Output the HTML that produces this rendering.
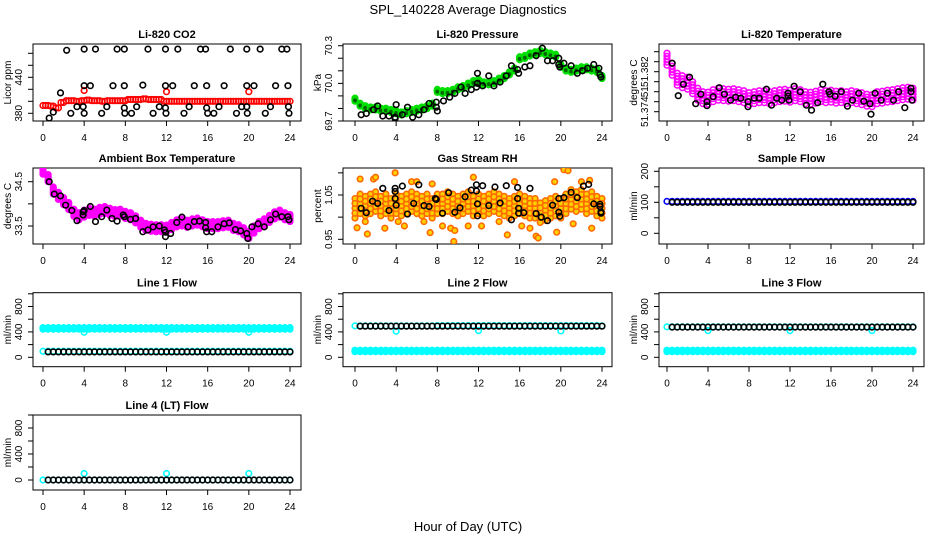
<!DOCTYPE html>
<html><head><meta charset="utf-8"><title>SPL_140228 Average Diagnostics</title>
<style>
html,body{margin:0;padding:0;background:#fff;}
svg{display:block;font-family:"Liberation Sans",Arial,sans-serif;}
</style></head>
<body>
<svg id="chart" width="936" height="540" viewBox="0 0 936 540" xmlns="http://www.w3.org/2000/svg">
<text x="468" y="14" font-size="13" text-anchor="middle">SPL_140228  Average Diagnostics</text>
<text x="468" y="531" font-size="13" text-anchor="middle">Hour of Day (UTC)</text>
</svg>
<script>
// ---- shared hour grids ----
const halfHours = [0,0.5,1,1.5,2,2.5,3,3.5,4,4.5,5,5.5,6,6.5,7,7.5,8,8.5,9,9.5,10,10.5,11,11.5,12,12.5,13,13.5,14,14.5,15,15.5,16,16.5,17,17.5,18,18.5,19,19.5,20,20.5,21,21.5,22,22.5,23,23.5,24];
const flowHours = [0.5,1,1.5,2,2.5,3,3.5,4,4.5,5,5.5,6,6.5,7,7.5,8,8.5,9,9.5,10,10.5,11,11.5,12,12.5,13,13.5,14,14.5,15,15.5,16,16.5,17,17.5,18,18.5,19,19.5,20,20.5,21,21.5,22,22.5,23,23.5,24];
const dipHours = [4,12,20];
const xTicks = [0,4,8,12,16,20,24];

// ---- Li-820 CO2 ----
const co2Red = [393,393,392,389,398,401,401,400,401,402,401,401,400,401,401,401,401,403,403,403,404,403,403,403,400,400,400,400,400,400,400,400,400,400,400,400,400,400,400,400,400,400,400,400,400,400,400,400,400];
const co2RedDip = [418,416,416];
const co2BlackHours = [0.6,1.0,1.7,2.3,2.7,3.3,3.9,4.0,4.0,4.0,4.6,5.1,5.7,6.2,6.8,7.2,7.9,7.9,7.9,7.95,8.6,9.1,9.7,10.2,10.7,11.3,11.9,11.9,11.9,11.95,12.6,13.1,13.7,14.2,14.7,15.3,15.8,15.9,15.9,16.0,16.6,17.1,17.6,18.2,18.8,19.3,19.8,19.8,19.8,19.85,20.5,21.1,21.6,22.1,22.6,23.2,23.7,23.8,23.85,23.9];
const co2Black = [372,382,414,485,380,391,391,426,487,380,426,487,380,391,426,487,487,426,389,380,380,391,427,487,380,391,487,426,389,380,426,487,380,391,426,487,487,426,389,380,380,391,426,487,380,391,487,426,391,380,426,487,380,391,426,487,487,426,391,380];

// ---- Li-820 Pressure ----
const presGreen = [69.87,69.83,69.81,69.80,69.80,69.79,69.79,69.78,69.77,69.76,69.77,69.78,69.79,69.80,69.81,69.83,69.94,69.93,69.93,69.94,69.96,69.97,69.99,70.01,70.02,70.00,70.00,70.01,70.03,70.05,70.08,70.11,70.20,70.21,70.23,70.24,70.25,70.24,70.23,70.22,70.14,70.11,70.10,70.11,70.12,70.12,70.11,70.10,70.05];
const presBlackHours = [0.6,1.1,1.8,2.2,2.7,3.3,3.9,3.9,4.0,4.6,5.1,5.6,6.2,6.7,7.2,7.9,7.9,8.0,8.6,9.2,9.7,10.3,10.7,11.3,11.8,11.9,11.9,12.4,13.0,13.5,14.1,14.7,15.2,15.8,15.9,16.5,17.0,17.6,18.2,18.7,19.2,19.8,19.8,19.9,20.3,21.0,21.6,22.1,22.6,23.2,23.7,23.8,23.9];
const presBlack = [69.75,69.76,69.79,69.82,69.74,69.74,69.73,69.72,69.83,69.75,69.81,69.73,69.75,69.79,69.84,69.85,69.81,69.78,69.86,69.89,69.92,69.97,69.92,69.95,69.97,70.0,70.08,69.98,70.06,69.98,70.01,70.06,70.14,70.11,70.08,70.13,70.14,70.22,70.28,70.18,70.18,70.2,70.15,70.13,70.16,70.14,70.08,70.1,70.12,70.15,70.12,70.07,70.05];

// ---- Li-820 Temperature ----
const tempMag = [51.3845,51.3825,51.3805,51.3800,51.3797,51.3788,51.3775,51.3768,51.3767,51.3772,51.3775,51.3774,51.3773,51.3774,51.3772,51.3770,51.3766,51.3768,51.3770,51.3770,51.3768,51.3770,51.3772,51.3773,51.3771,51.3774,51.3772,51.3768,51.3767,51.3769,51.3772,51.3770,51.3771,51.3769,51.3770,51.3768,51.3770,51.3768,51.3766,51.3763,51.3762,51.3768,51.3769,51.3771,51.3772,51.3774,51.3776,51.3777,51.3775];
const tempBlackHours = [0.5,1.1,1.6,2.2,2.8,3.3,3.9,3.9,4.5,5.1,5.6,6.2,6.7,7.2,7.9,7.9,8.5,9.0,9.7,10.2,10.7,11.2,11.8,11.8,11.9,12.4,13.0,13.6,14.1,14.7,15.2,15.8,15.9,16.4,17.0,17.6,18.1,18.7,19.2,19.8,19.9,20.3,20.9,21.5,22.1,22.6,23.2,23.8,23.8,23.9];
const tempBlack = [51.3837,51.3772,51.3795,51.3809,51.3756,51.3775,51.3760,51.3752,51.3770,51.3788,51.3775,51.3763,51.3769,51.3767,51.3760,51.3750,51.3767,51.3767,51.3785,51.3753,51.3767,51.3763,51.3777,51.3771,51.3763,51.3791,51.3780,51.3753,51.3743,51.3758,51.3795,51.3780,51.3775,51.3771,51.3780,51.3751,51.3763,51.3777,51.3761,51.3756,51.3735,51.3777,51.3763,51.3777,51.3763,51.3780,51.3748,51.3787,51.3780,51.3763];

// ---- Ambient Box Temperature ----
const ambMag = [34.75,34.58,34.30,34.18,34.06,33.95,33.80,33.72,33.78,33.82,33.80,33.84,33.86,33.82,33.79,33.80,33.75,33.72,33.65,33.55,33.48,33.46,33.45,33.45,33.44,33.50,33.56,33.58,33.55,33.58,33.60,33.56,33.52,33.52,33.52,33.54,33.55,33.48,33.45,33.38,33.30,33.42,33.52,33.58,33.66,33.74,33.78,33.72,33.68];
const ambBlackHours = [0.6,1.1,1.7,2.2,2.8,3.3,3.9,3.9,4.0,4.6,5.1,5.7,6.2,6.7,7.2,7.8,7.9,8.5,9.0,9.7,10.2,10.7,11.3,11.8,11.9,11.9,12.4,13.0,13.5,14.1,14.7,15.2,15.8,15.8,15.9,16.4,17.0,17.6,18.1,18.7,19.2,19.8,19.9,20.3,20.9,21.5,22.1,22.6,23.2,23.8,23.9];
const ambBlack = [34.50,34.22,34.18,33.97,33.85,33.62,33.82,33.75,33.85,33.94,33.60,33.71,33.86,33.67,33.61,33.75,33.71,33.65,33.67,33.37,33.41,33.48,33.50,33.41,33.36,33.26,33.33,33.58,33.70,33.48,33.60,33.61,33.58,33.46,33.37,33.37,33.48,33.55,33.57,33.42,33.39,33.33,33.22,33.48,33.55,33.48,33.64,33.77,33.71,33.71,33.64];

// ---- Gas Stream RH ----
const rhOrange = [1.020,1.030,1.025,1.030,1.035,1.025,1.030,1.020,1.030,1.025,1.030,1.035,1.030,1.025,1.030,1.020,1.030,1.030,1.035,1.030,1.025,1.030,1.035,1.025,1.030,1.025,1.030,1.035,1.030,1.025,1.020,1.025,1.030,1.025,1.020,1.020,1.010,1.015,1.020,1.025,1.020,1.030,1.040,1.035,1.040,1.030,1.035,1.025,1.020];
const rhOutlierHours = [0.2,0.5,1.0,1.2,1.8,2.0,2.9,3.9,4.2,4.8,5.5,6.0,6.7,7.3,7.5,8.5,9.3,9.6,9.7,11.0,11.5,12.3,14.0,14.8,15.5,16.2,17.0,17.6,17.8,19.4,19.6,20.3,20.7,21.2,22.0,22.8,23.0];
const rhOutliers = [0.976,1.086,0.99,0.962,1.086,1.09,0.975,1.10,0.99,0.98,1.08,1.08,0.99,0.965,1.075,0.98,0.975,0.945,0.97,0.98,1.09,0.98,0.99,0.96,1.08,0.98,0.975,0.957,0.953,1.08,0.966,1.107,1.105,0.985,1.08,1.083,0.975];
const rhBlackHours = [0.6,1.1,1.7,2.2,2.7,3.3,3.9,3.9,3.9,4.0,4.6,5.1,5.7,6.2,6.7,7.2,7.8,7.9,8.5,9.1,9.7,10.2,10.7,11.3,11.8,11.8,11.9,11.9,12.4,13.0,13.6,14.1,14.7,15.2,15.8,15.8,15.9,15.9,16.4,17.0,17.6,18.1,18.7,19.2,19.8,19.8,19.9,20.3,21.0,21.6,22.2,22.7,23.2,23.8,23.8,23.9,23.9];
const rhBlack = [1.020,1.010,1.036,1.031,1.065,1.015,1.065,1.058,1.042,1.027,1.070,1.007,1.031,1.073,1.026,1.024,1.042,1.040,1.009,1.055,1.011,1.021,1.046,1.061,1.073,1.059,1.030,1.003,1.071,1.026,1.068,1.032,1.071,0.994,1.067,1.042,1.020,1.009,1.010,1.065,1.008,1.000,0.992,1.027,1.042,1.011,1.002,1.044,1.056,1.044,1.070,1.074,1.030,1.029,1.024,1.012,1.009];

// ---- Flows ----
const sampleBlue = [103,103,103,103,103,103,103,103,103,103,103,103,103,103,103,103,103,103,103,103,103,103,103,103,103,103,103,103,103,103,103,103,103,103,103,103,103,103,103,103,103,103,103,103,103,103,103,103,103];
const sampleBlack = [100,100,100,100,100,100,100,100,100,100,100,100,100,100,100,100,100,100,100,100,100,100,100,100,100,100,100,100,100,100,100,100,100,100,100,100,100,100,100,100,100,100,100,100,100,100,100,100];
const line1CyanHigh = [455,455,455,455,455,455,455,455,455,455,455,455,455,455,455,455,455,455,455,455,455,455,455,455,455,455,455,455,455,455,455,455,455,455,455,455,455,455,455,455,455,455,455,455,455,455,455,455,455];
const line1CyanLow = [95,95,95,95,95,95,95,95,95,95,95,95,95,95,95,95,95,95,95,95,95,95,95,95,95,95,95,95,95,95,95,95,95,95,95,95,95,95,95,95,95,95,95,95,95,95,95,95,95];
const line1Dip = [395,395,395];
const line1Black = [85,85,85,85,85,85,85,85,85,85,85,85,85,85,85,85,85,85,85,85,85,85,85,85,85,85,85,85,85,85,85,85,85,85,85,85,85,85,85,85,85,85,85,85,85,85,85,85];
const line2CyanHigh = [495,495,495,495,495,495,495,495,495,495,495,495,495,495,495,495,500,500,500,500,500,500,500,500,500,500,500,500,500,500,500,500,500,500,500,500,500,500,500,500,500,500,500,500,500,500,500,500,495];
const line2CyanLow = [100,100,100,100,100,100,100,100,100,100,100,100,100,100,100,100,100,100,100,100,100,100,100,100,100,100,100,100,100,100,100,100,100,100,100,100,100,100,100,100,100,100,100,100,100,100,100,100,100];
const line2Dip = [410,420,415];
const line2Black = [490,490,490,490,490,490,490,490,490,490,490,490,490,490,490,490,490,490,490,490,490,490,490,490,490,490,490,490,490,490,490,490,490,490,490,490,490,490,490,490,490,490,490,490,490,490,490,490];
const line3CyanHigh = [480,480,480,480,480,480,480,480,480,480,480,480,480,480,480,480,480,480,480,480,480,480,480,480,480,480,480,480,480,480,480,480,480,480,480,480,480,480,480,480,480,480,480,480,480,480,480,480,480];
const line3CyanLow = [100,100,100,100,100,100,100,100,100,100,100,100,100,100,100,100,100,100,100,100,100,100,100,100,100,100,100,100,100,100,100,100,100,100,100,100,100,100,100,100,100,100,100,100,100,100,100,100,100];
const line3Dip = [420,420,420];
const line3Black = [475,475,475,475,475,475,475,475,475,475,475,475,475,475,475,475,475,475,475,475,475,475,475,475,475,475,475,475,475,475,475,475,475,475,475,475,475,475,475,475,475,475,475,475,475,475,475,475];
const line4Cyan = [0,0,0,0,0,0,0,0,0,0,0,0,0,0,0,0,0,0,0,0,0,0,0,0,0,0,0,0,0,0,0,0,0,0,0,0,0,0,0,0,0,0,0,0,0,0,0,0,0];
const line4Dip = [100,100,100];
const line4Black = [0,0,0,0,0,0,0,0,0,0,0,0,0,0,0,0,0,0,0,0,0,0,0,0,0,0,0,0,0,0,0,0,0,0,0,0,0,0,0,0,0,0,0,0,0,0,0,0];

// ---- tick arrays ----
const co2Ticks = [380,400,420,440,460,480];
const co2Labels = ["380","","","440","",""];
const presTicks = [69.7,69.8,69.9,70.0,70.1,70.2,70.3];
const presLabels = ["69.7","","","70.0","","","70.3"];
const tempTicks = [51.374,51.376,51.378,51.380,51.382,51.384,51.386];
const tempLabels = ["51.374","","51","","51.382","",""];
const ambTicks = [33.5,34.0,34.5];
const ambLabels = ["33.5","","34.5"];
const rhTicks = [0.95,1.0,1.05,1.1];
const rhLabels = ["0.95","","1.05",""];
const sfTicks = [0,50,100,150,200];
const sfLabels = ["0","","100","","200"];
const lfTicks = [0,200,400,600,800,1000];
const lfLabels = ["0","","400","","800",""];

const NS = "http://www.w3.org/2000/svg";
const svg = document.getElementById('chart');
const cols = [{x0:43,x24:290,L:33,R:301},{x0:355,x24:602,L:343,R:612},{x0:667,x24:913,L:659,R:924}];
const rows = [{T:44,B:121},{T:168,B:244},{T:292.7,B:366.7},{T:415,B:490}];

function mk(tag, attrs, parent){
  const e = document.createElementNS(NS, tag);
  for (const k in attrs) e.setAttribute(k, attrs[k]);
  (parent||svg).appendChild(e);
  return e;
}

function makePanel(name, title, ci, ri, ylab, v1, p1, v2, p2, ticks, labels){
  const c = cols[ci], r = rows[ri];
  const g = mk('g', {});
  
  
  const xs = h => c.x0 + (c.x24 - c.x0) * h / 24;
  const ys = v => p1 + (v - v1) * (p2 - p1) / (v2 - v1);
  const t = mk('text', {x:(c.L+c.R)/2, y:r.T-6, 'font-size':11, 'font-weight':'bold', 'text-anchor':'middle'}, g);
  t.textContent = title;
  
  
  const box = mk('rect', {x:c.L, y:r.T, width:c.R-c.L, height:r.B-r.T, fill:'none', stroke:'#000', 'stroke-width':1}, g);
  
  
  // x axis
  const xa = mk('g', {}, g);
  
  
  xTicks.forEach(h => {
    mk('line', {x1:xs(h), x2:xs(h), y1:r.B, y2:r.B+5, stroke:'#000'}, xa);
    const tl = mk('text', {x:xs(h), y:r.B+20, 'font-size':10, 'text-anchor':'middle'}, xa);
    tl.textContent = h;
    
    
  });
  // y axis
  const ya = mk('g', {}, g);
  
  
  mk('line', {x1:c.L, x2:c.L, y1:ys(ticks[0]), y2:ys(ticks[ticks.length-1]), stroke:'#000'}, ya);
  ticks.forEach((v, i) => {
    mk('line', {x1:c.L-5, x2:c.L, y1:ys(v), y2:ys(v), stroke:'#000'}, ya);
    if (labels[i]) {
      const yy = ys(v), xx = c.L - 11;
      const tl = mk('text', {x:xx, y:yy, 'font-size':10, 'text-anchor':'middle', transform:'rotate(-90 '+xx+' '+yy+')'}, ya);
      tl.textContent = labels[i];
      
      
    }
  });
  const yt = mk('text', {x:c.L-22, y:(r.T+r.B)/2, 'font-size':10, 'text-anchor':'middle', transform:'rotate(-90 '+(c.L-22)+' '+((r.T+r.B)/2)+')'}, g);
  yt.textContent = ylab;
  
  
  const clip = 'clip-' + name;
  const cp = mk('clipPath', {id:clip}, g);
  mk('rect', {x:c.L, y:r.T, width:c.R-c.L, height:r.B-r.T}, cp);
  const marks = mk('g', {'clip-path':'url(#'+clip+')'}, g);
  
  
  return {xs, ys, marks};
}

function points(p, hours, vals, color, label, spread, fill){
  const grp = mk('g', {}, p.marks);
  
  
  const offs = spread ? [0, spread, -spread, spread/2, -spread/2] : [0];
  hours.forEach((h, i) => {
    offs.forEach(o => {
      const cc = mk('circle', {cx:p.xs(h), cy:p.ys(vals[i] + o), r:2.8, fill:fill||'none', stroke:color, 'stroke-width':1.6}, grp);
      
      
    });
  });
}

// Panels
let p;
p = makePanel('co2', 'Li-820 CO2', 0, 0, 'Licor ppm', 380, 113.3, 440, 77.3, co2Ticks, co2Labels);
points(p, halfHours, co2Red, '#ff0000', 'co2-red-series', 0);
points(p, halfHours.map(h => h + 0.25).slice(0, 48), co2Red.slice(1), '#ff0000', 'co2-red-series-b', 0);
points(p, dipHours, co2RedDip, '#ff0000', 'co2-red-dips', 0);
points(p, co2BlackHours, co2Black, '#000', 'co2-black-series', 0);

p = makePanel('pressure', 'Li-820 Pressure', 1, 0, 'kPa', 69.7, 121, 70.3, 45.7, presTicks, presLabels);
points(p, halfHours, presGreen, '#00e000', 'pressure-green-series', 0.012, '#006600');
points(p, presBlackHours, presBlack, '#000', 'pressure-black-series', 0);

p = makePanel('li820-temp', 'Li-820 Temperature', 2, 0, 'degrees C', 51.374, 111.7, 51.382, 71.7, tempTicks, tempLabels);
points(p, halfHours, tempMag, '#ff00ff', 'temp-magenta-series', 0.0012);
points(p, tempBlackHours, tempBlack, '#000', 'temp-black-series', 0);

p = makePanel('ambient', 'Ambient Box Temperature', 0, 1, 'degrees C', 33.5, 226, 34.5, 181.7, ambTicks, ambLabels);
points(p, halfHours, ambMag, '#ff00ff', 'ambient-magenta-series', 0.08, '#ff00ff');
points(p, ambBlackHours, ambBlack, '#000', 'ambient-black-series', 0);

p = makePanel('rh', 'Gas Stream RH', 1, 1, 'percent', 0.95, 239.3, 1.05, 195, rhTicks, rhLabels);
points(p, halfHours, rhOrange, '#ff6a00', 'rh-orange-series', 0.022, '#ffd000');
points(p, rhOutlierHours, rhOutliers, '#ff6a00', 'rh-orange-outliers', 0, '#ffd000');
points(p, rhBlackHours, rhBlack, '#000', 'rh-black-series', 0);

p = makePanel('sample-flow', 'Sample Flow', 2, 1, 'ml/min', 0, 233.3, 100, 202.3, sfTicks, sfLabels);
points(p, halfHours, sampleBlue, '#0000ff', 'sample-blue-series', 0);
points(p, flowHours, sampleBlack, '#000', 'sample-black-series', 0);

p = makePanel('line1', 'Line 1 Flow', 0, 2, 'ml/min', 0, 357.3, 400, 331.9, lfTicks, lfLabels);
points(p, halfHours, line1CyanHigh, '#00ffff', 'line1-cyan-high', 12, '#00ffff');
points(p, halfHours, line1CyanLow, '#00ffff', 'line1-cyan-low', 0);
points(p, dipHours, line1Dip, '#00ffff', 'line1-cyan-dips', 0);
points(p, flowHours, line1Black, '#000', 'line1-black-series', 0);

p = makePanel('line2', 'Line 2 Flow', 1, 2, 'ml/min', 0, 357.3, 400, 331.9, lfTicks, lfLabels);
points(p, halfHours, line2CyanHigh, '#00ffff', 'line2-cyan-high', 0);
points(p, halfHours, line2CyanLow, '#00ffff', 'line2-cyan-low', 12, '#00ffff');
points(p, dipHours, line2Dip, '#00ffff', 'line2-cyan-dips', 0);
points(p, flowHours, line2Black, '#000', 'line2-black-series', 0);

p = makePanel('line3', 'Line 3 Flow', 2, 2, 'ml/min', 0, 357.3, 400, 331.9, lfTicks, lfLabels);
points(p, halfHours, line3CyanHigh, '#00ffff', 'line3-cyan-high', 0);
points(p, halfHours, line3CyanLow, '#00ffff', 'line3-cyan-low', 12, '#00ffff');
points(p, dipHours, line3Dip, '#00ffff', 'line3-cyan-dips', 0);
points(p, flowHours, line3Black, '#000', 'line3-black-series', 0);

p = makePanel('line4', 'Line 4 (LT) Flow', 0, 3, 'ml/min', 0, 480, 800, 428, lfTicks, lfLabels);
points(p, halfHours, line4Cyan, '#00ffff', 'line4-cyan-series', 0);
points(p, dipHours, line4Dip, '#00ffff', 'line4-cyan-dips', 0);
points(p, flowHours, line4Black, '#000', 'line4-black-series', 0);
</script>
</body></html>
